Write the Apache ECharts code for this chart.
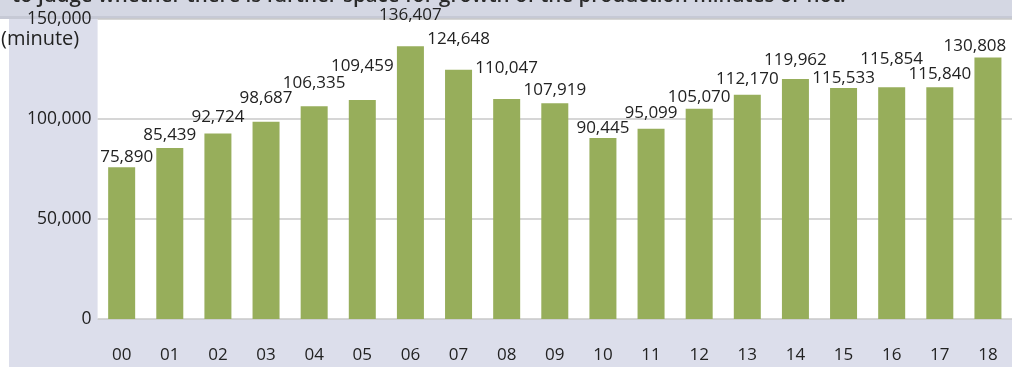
<!DOCTYPE html>
<html>
<head>
<meta charset="utf-8">
<script src="https://cdn.jsdelivr.net/npm/echarts@6/dist/echarts.min.js"></script>
<style>
html,body{margin:0;padding:0;background:#dcdeeb;}
#c{width:1012px;height:367px;}
</style>
</head>
<body>
<div id="c"></div>
<script>
const categories = ['00','01','02','03','04','05','06','07','08','09','10','11','12','13','14','15','16','17','18'];
const minutes = [75890,85439,92724,98687,106335,109459,136407,124648,110047,107919,90445,95099,105070,112170,119962,115533,115854,115840,130808];
const yTicks = [0,50000,100000,150000];
const labelDx = [5,0,0,0,0,0,0,0,0,0,0,0,0,0,0,0,0,0,-13];
const labelDy = [0,-3,-6,-13,-13,-24,-21,-21,-21,-3,0,-6,-2,-6,-9,0,-18,-3,-1];

const fmt = v => Number(v).toLocaleString('en-US');
const FONT = '"Open Sans", "Noto Sans", sans-serif';

const chart = echarts.init(document.getElementById('c'), null, {renderer:'canvas'});
chart.setOption({
  backgroundColor: '#dcdeeb',
  animation: false,
  title: {
    text: 'to judge whether there is further space for growth of the production minutes or not.',
    left: 7, top: -19.5,
    textStyle: {fontFamily: FONT, fontSize: 20.5, fontWeight: 600, color: '#2a2a2a'}
  },
  graphic: [
    {type:'rect', z:-1, shape:{x:0, y:0, width:1012, height:19}, style:{fill:'#d4d7e3'}},
    {type:'rect', z:-1, shape:{x:0, y:16, width:1012, height:3}, style:{fill:'#c6c9d5'}},
    {type:'rect', z:-1, shape:{x:0, y:19, width:9, height:348}, style:{fill:'#ffffff'}},
    {type:'text', left: 1, top: 29, style:{text:'(minute)', font:'20px ' + FONT, fill:'#222'}}
  ],
  grid: {
    left: 97.6, top: 19, width: 916.5, bottom: 48,
    show: true, backgroundColor: '#ffffff', borderWidth: 0
  },
  xAxis: {
    type: 'category',
    data: categories,
    axisLine: {show:false},
    axisTick: {show:false},
    axisLabel: {fontFamily: FONT, fontSize: 17, color: '#222', margin: 28}
  },
  yAxis: {
    type: 'value',
    min: yTicks[0], max: yTicks[yTicks.length-1], interval: yTicks[1]-yTicks[0],
    axisLine: {show:false},
    axisTick: {show:false},
    axisLabel: {fontFamily: FONT, fontSize: 17.5, color: '#222', margin: 6, formatter: fmt},
    splitLine: {lineStyle: {color: '#c9c9c9', width: 1.5}}
  },
  series: [{
    type: 'bar',
    barWidth: 27,
    itemStyle: {color: '#97ae5b'},
    label: {
      show: true, position: 'top', distance: 1,
      fontFamily: FONT, fontSize: 17, lineHeight: 18, color: '#222',
      formatter: p => fmt(p.value)
    },
    data: minutes.map((v, i) => ({value: v, label: {offset: [labelDx[i], labelDy[i]]}}))
  }]
});
</script>
</body>
</html>
